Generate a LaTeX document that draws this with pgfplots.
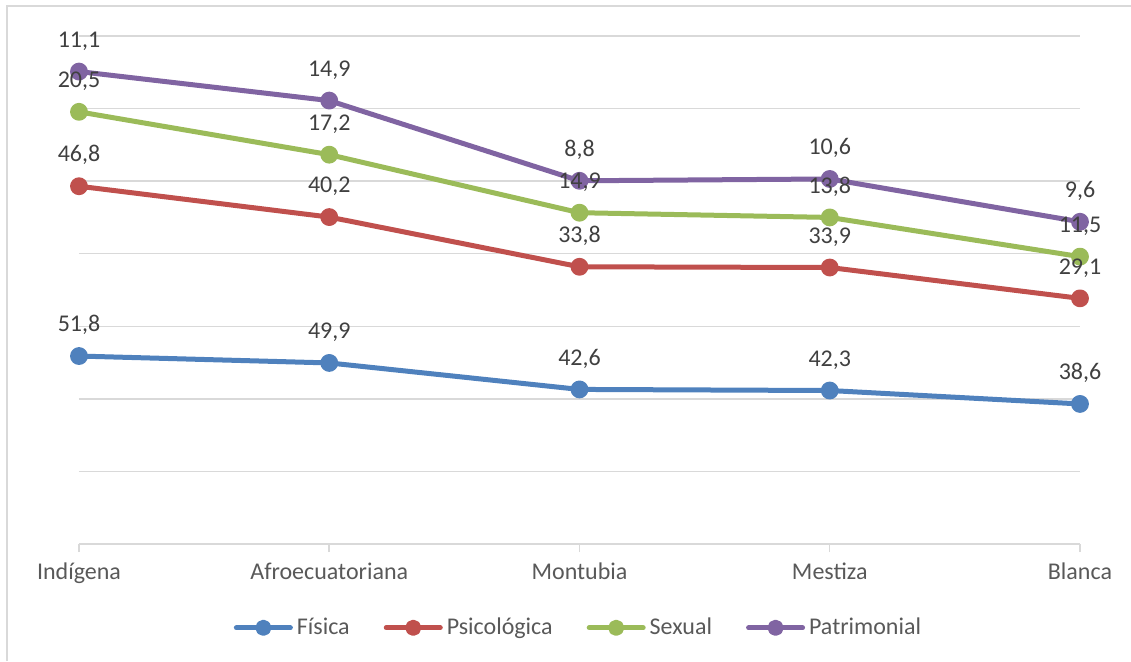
\documentclass[border=0pt]{standalone}
\usepackage{pgfplots}
\pgfplotsset{compat=1.18}
\usepackage{fontspec}
\setmainfont{Carlito}
\definecolor{cFis}{HTML}{4F81BD}
\definecolor{cPsi}{HTML}{C0504D}
\definecolor{cSex}{HTML}{9BBB59}
\definecolor{cPat}{HTML}{8064A2}
\definecolor{gridc}{HTML}{D9D9D9}
\definecolor{lbl}{HTML}{404040}
\definecolor{tickc}{HTML}{595959}
\begin{document}
\begin{tikzpicture}
\path[use as bounding box] (-39.5pt,-58.5pt) rectangle (526pt,272pt);
\draw[gridc, line width=0.75pt] (-36pt,-58.5pt) -- (-36pt,269pt) -- (526pt,269pt);
\begin{axis}[
  at={(0,0)}, anchor=south west,
  scale only axis, width=500.5pt, height=254pt,
  xmin=0, xmax=4, ymin=0, ymax=140,
  stack plots=y,
  axis x line*=bottom,
  axis y line*=left,
  y axis line style={draw=none},
  x axis line style={draw=gridc, line width=0.75pt, -},
  xtick={0,1,2,3,4},
  xticklabels={Indígena,Afroecuatoriana,Montubia,Mestiza,Blanca},
  xtick style={draw=gridc, line width=0.75pt},
  ytick style={draw=none},
  yticklabels={},
  major tick length=4pt,
  tick align=outside,
  xticklabel style={font=\fontsize{12}{14}\selectfont, text=tickc, yshift=-2pt},
  ytick={20,40,...,140},
  xmajorgrids=false,
  ymajorgrids=true,
  major grid style={draw=gridc, line width=0.75pt},
  clip=false,
  point meta=explicit,
  nodes near coords,
  nodes near coords style={font=\fontsize{12}{14}\selectfont, text=lbl, anchor=south, yshift=6pt,
     /pgf/number format/.cd, fixed, fixed zerofill, precision=1, use comma, assume math mode=true},
  every axis plot/.append style={line width=2.5pt, line cap=round, line join=round, mark=*, mark size=3.2pt},
  legend columns=4,
  legend style={at={(0.5,-0.165)}, anchor=center, draw=none, fill=none,
     font=\fontsize{12}{14}\selectfont, text=tickc,
     /tikz/every even column/.append style={column sep=15pt}},
  legend cell align=left,
  legend image code/.code={\draw[mark repeat=2,mark phase=2,#1,mark size=2.8pt] plot coordinates {(0pt,0pt) (13.5pt,0pt) (27pt,0pt)};},
]
\addplot[color=cFis, mark options={fill=cFis, draw=cFis}] table[meta=m] {
x y m
0 51.8 51.8
1 49.9 49.9
2 42.6 42.6
3 42.3 42.3
4 38.6 38.6
};
\addlegendentry{Física}
\addplot[color=cPsi, mark options={fill=cPsi, draw=cPsi}] table[meta=m] {
x y m
0 46.8 46.8
1 40.2 40.2
2 33.8 33.8
3 33.9 33.9
4 29.1 29.1
};
\addlegendentry{Psicológica}
\addplot[color=cSex, mark options={fill=cSex, draw=cSex}] table[meta=m] {
x y m
0 20.5 20.5
1 17.2 17.2
2 14.9 14.9
3 13.8 13.8
4 11.5 11.5
};
\addlegendentry{Sexual}
\addplot[color=cPat, mark options={fill=cPat, draw=cPat}] table[meta=m] {
x y m
0 11.1 11.1
1 14.9 14.9
2 8.8 8.8
3 10.6 10.6
4 9.6 9.6
};
\addlegendentry{Patrimonial}
\end{axis}
\end{tikzpicture}
\end{document}
